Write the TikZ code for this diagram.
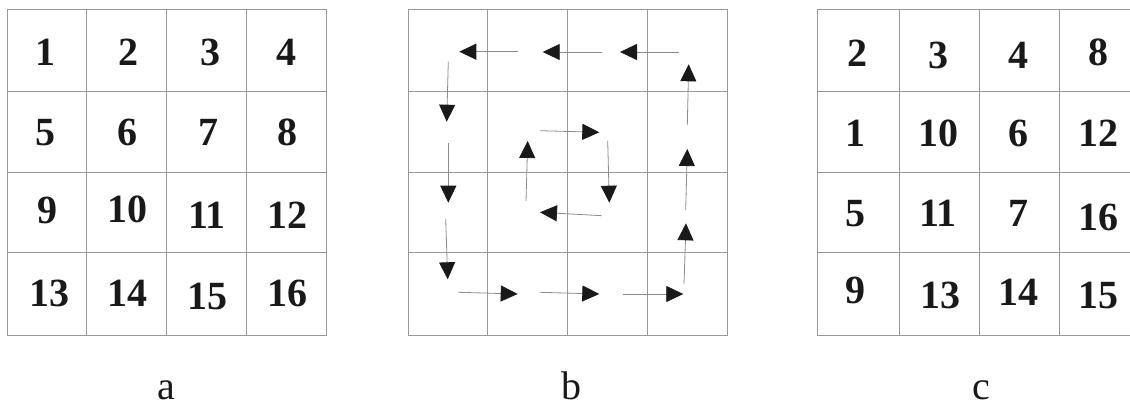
\documentclass[tikz,border=0pt]{standalone}
\usepackage{fontspec}
\setmainfont{Liberation Serif}
\usetikzlibrary{arrows.meta}
\tikzset{
  gridline/.style={draw=black!40, line width=1pt},
  num/.style={font=\fontsize{40}{40}\selectfont\bfseries, inner sep=0pt, anchor=base, text=black!90},
  lab/.style={font=\fontsize{40}{40}\selectfont, inner sep=0pt, anchor=base, text=black!90},
  arr/.style={draw=black!45, line width=0.8pt, -{Triangle[length=17pt,width=16pt,color=black!90,fill=black!90]}},
}
\begin{document}
\begin{tikzpicture}[x=1pt,y=-1pt]
\useasboundingbox (0,0) rectangle (1130,403);
% grid a
\foreach \x in {7,86.5,166.5,246.5,326} \draw[gridline] (\x,9.5) -- (\x,336);
\foreach \y in {9.5,92,172.5,253,336} \draw[gridline] (7,\y) -- (326,\y);
% grid b
\foreach \x in {408.3,487.3,567.3,647.3,727.3} \draw[gridline] (\x,9.5) -- (\x,336);
\foreach \y in {9.5,92,172.5,253,336} \draw[gridline] (408.3,\y) -- (727.3,\y);
% grid c
\foreach \x in {817.3,899.3,979,1059,1139} \draw[gridline] (\x,9.5) -- (\x,336);
\foreach \y in {9.5,92,172.5,253,336} \draw[gridline] (817.3,\y) -- (1139,\y);
% numbers a
\node[num] (a1) at (45,65.5) {1};
\node[num] (a2) at (128,65.5) {2};
\node[num] (a3) at (210,65.5) {3};
\node[num] (a4) at (286,65.5) {4};
\node[num] (a5) at (45,145.5) {5};
\node[num] (a6) at (127,145.5) {6};
\node[num] (a7) at (208,145.5) {7};
\node[num] (a8) at (287,145.5) {8};
\node[num] (a9) at (47,223.5) {9};
\node[num] (a10) at (127,222.5) {10};
\node[num] (a11) at (207,228.5) {11};
\node[num] (a12) at (287,228.5) {12};
\node[num] (a13) at (49,306.5) {13};
\node[num] (a14) at (127,306.5) {14};
\node[num] (a15) at (207,310) {15};
\node[num] (a16) at (287,306.5) {16};
% numbers c
\node[num] (c1) at (857,66.5) {2};
\node[num] (c2) at (938,68.5) {3};
\node[num] (c3) at (1018,68.5) {4};
\node[num] (c4) at (1098,65.5) {8};
\node[num] (c5) at (855,146.5) {1};
\node[num] (c6) at (938,146.5) {10};
\node[num] (c7) at (1018,146.5) {6};
\node[num] (c8) at (1098,146.5) {12};
\node[num] (c9) at (855,226.5) {5};
\node[num] (c10) at (938,226.5) {11};
\node[num] (c11) at (1018,226.5) {7};
\node[num] (c12) at (1098,230.5) {16};
\node[num] (c13) at (855,303.5) {9};
\node[num] (c14) at (940,308.5) {13};
\node[num] (c15) at (1018,305.5) {14};
\node[num] (c16) at (1098,308.5) {15};
% labels
\node[lab] (la) at (166,399) {a};
\node[lab] (lb) at (571,399) {b};
\node[lab] (lc) at (981,399) {c};
% arrows in b
\coordinate (s1) at (518.3,51.7); \coordinate (t1) at (459.3,51.7);
\coordinate (s2) at (601.7,52); \coordinate (t2) at (542.7,52);
\coordinate (s3) at (679.3,52); \coordinate (t3) at (620,52);
\coordinate (s4) at (687.3,125); \coordinate (t4) at (688.7,64.3);
\coordinate (s5) at (685.7,210); \coordinate (t5) at (687.3,149);
\coordinate (s6) at (684,284); \coordinate (t6) at (686,223.3);
\coordinate (s7) at (458.3,292.3); \coordinate (t7) at (517.7,294);
\coordinate (s8) at (540,292.3); \coordinate (t8) at (599.3,294);
\coordinate (s9) at (623.3,294); \coordinate (t9) at (683.3,294);
\coordinate (s10) at (448.3,61.7); \coordinate (t10) at (446.7,121.7);
\coordinate (s11) at (448.3,142.7); \coordinate (t11) at (448.3,202.7);
\coordinate (s12) at (445.7,219); \coordinate (t12) at (447.7,279.3);
\coordinate (s13) at (540,130.7); \coordinate (t13) at (599.3,132.3);
\coordinate (s14) at (607.7,140.7); \coordinate (t14) at (609.3,202.7);
\coordinate (s15) at (601.7,215.7); \coordinate (t15) at (540,212.3);
\coordinate (s16) at (526,201); \coordinate (t16) at (527.7,141);
\foreach \i in {1,...,16} \draw[arr] (s\i) -- (t\i);
\end{tikzpicture}
\end{document}
